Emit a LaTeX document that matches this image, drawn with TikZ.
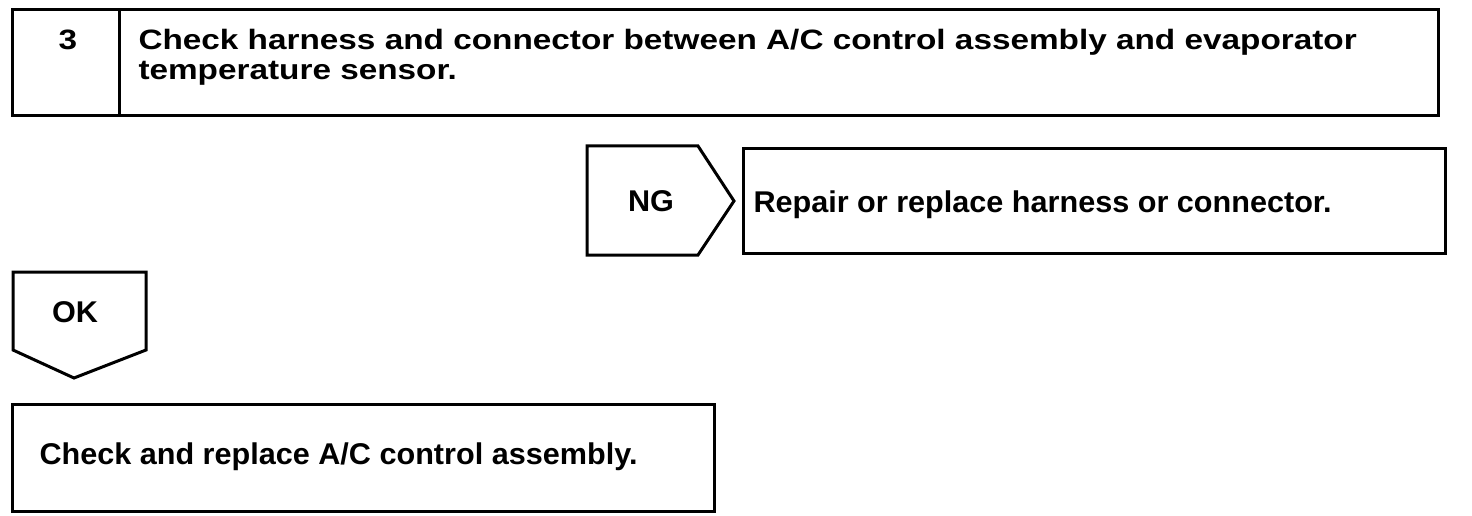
\documentclass[tikz,border=0pt]{standalone}
\usepackage{fontspec}
\setmainfont{Liberation Sans}
\begin{document}
\begin{tikzpicture}[x = 1pt, y = -1pt, line width = 3pt, line join = miter,
	box/.style = {draw, line width = 3pt, inner sep = 0pt, anchor = north west},
	txt/.style = {font = \bfseries\fontsize{30}{30}\selectfont\addfontfeatures{FakeStretch = 1.02}, inner sep = 0pt},
	headtxt/.style = {font = \bfseries\fontsize{28}{30}\selectfont\addfontfeatures{FakeStretch = 1.19}, inner sep = 0pt}]
	\useasboundingbox ( 0, 0 ) rectangle ( 1472, 516 );
	% step 3
	\node [box, minimum width = 107pt, minimum height = 106pt] (numbox) at ( 11, 8 ) {};
	\node [box, minimum width = 1319pt, minimum height = 106pt] (checkbox) at ( 118, 8 ) {};
	\node [headtxt, anchor = base] (num) at ( 68, 50 ) {3};
	\node [headtxt, anchor = base west, align = left] (check) at ( 137, 80 )
		{Check harness and connector between A/C control assembly and evaporator\\temperature sensor.};
	% NG
	\coordinate (ngA) at ( 587, 146 );
	\coordinate (ngB) at ( 698, 146 );
	\coordinate (ngC) at ( 734, 201 );
	\coordinate (ngD) at ( 698, 255 );
	\coordinate (ngE) at ( 587, 255 );
	\draw (ngA) -- (ngB) -- (ngC) -- (ngD) -- (ngE) -- cycle;
	\node [txt] (ng) at ( 651, 201 ) {NG};
	\node [box, minimum width = 702pt, minimum height = 105pt] (repairbox) at ( 742, 147 ) {};
	\node [txt, anchor = base west] (repair) at ( 752, 212 ) {Repair or replace harness or connector.};
	% OK
	\coordinate (okA) at ( 13, 272 );
	\coordinate (okB) at ( 146, 272 );
	\coordinate (okC) at ( 146, 350 );
	\coordinate (okD) at ( 74, 378 );
	\coordinate (okE) at ( 13, 350 );
	\draw (okA) -- (okB) -- (okC) -- (okD) -- (okE) -- cycle;
	\node [txt] (ok) at ( 75, 312 ) {OK};
	\node [box, minimum width = 702pt, minimum height = 107pt] (replacebox) at ( 11, 403 ) {};
	\node [txt, anchor = base west] (replace) at ( 38, 464 ) {Check and replace A/C control assembly.};
\end{tikzpicture}
\end{document}
